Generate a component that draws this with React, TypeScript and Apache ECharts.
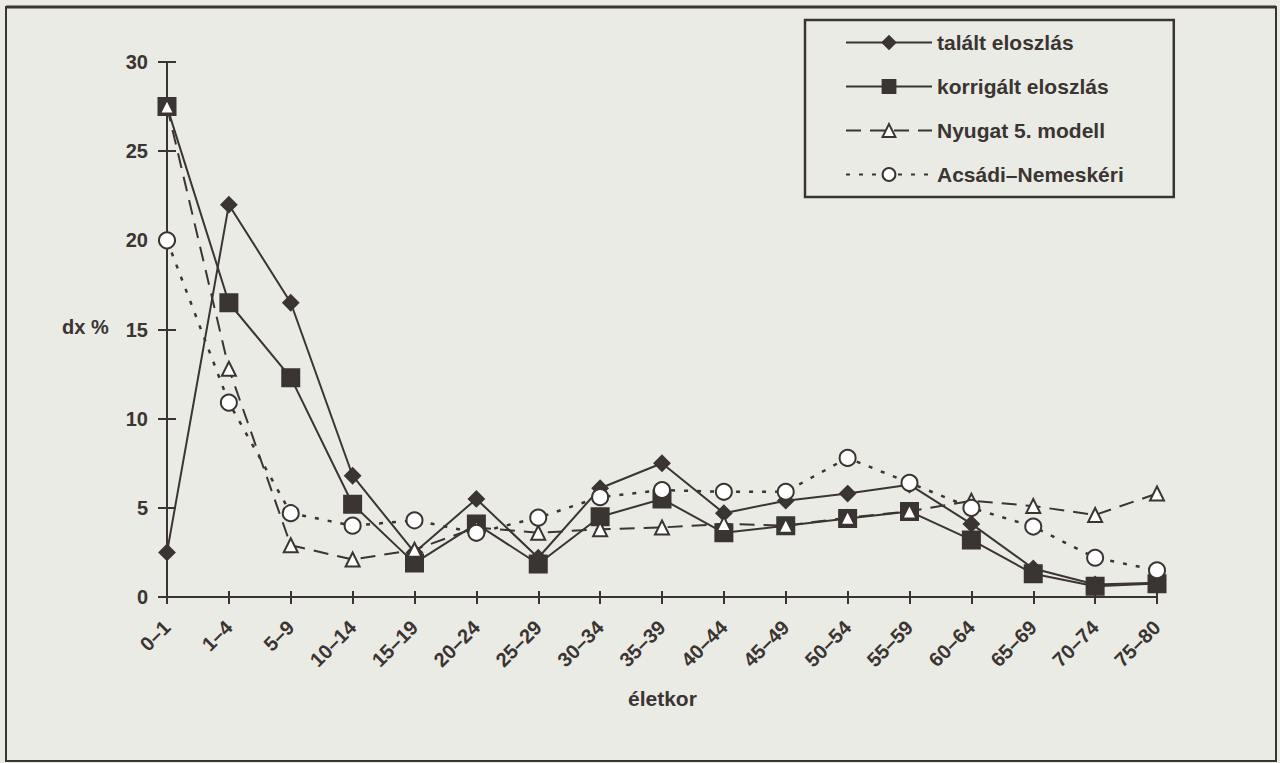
import React, { useEffect, useRef } from "react";
import * as echarts from "echarts";

const categories = ["0–1", "1–4", "5–9", "10–14", "15–19", "20–24", "25–29", "30–34", "35–39", "40–44", "45–49", "50–54", "55–59", "60–64", "65–69", "70–74", "75–80"];
const talalt = [2.5, 22.0, 16.5, 6.8, 2.5, 5.5, 2.2, 6.1, 7.5, 4.7, 5.4, 5.8, 6.3, 4.1, 1.6, 0.7, 0.8];
const korrigalt = [27.5, 16.5, 12.3, 5.2, 1.9, 4.1, 1.85, 4.5, 5.5, 3.6, 4.0, 4.4, 4.8, 3.2, 1.3, 0.6, 0.75];
const nyugat = [27.5, 12.8, 2.9, 2.1, 2.65, 3.9, 3.6, 3.8, 3.9, 4.1, 4.0, 4.45, 4.8, 5.4, 5.1, 4.6, 5.8];
const acsadi = [20.0, 10.9, 4.7, 4.0, 4.3, 3.6, 4.45, 5.6, 6.0, 5.9, 5.9, 7.8, 6.4, 5.0, 3.95, 2.2, 1.5];
const yTicks = [0, 5, 10, 15, 20, 25, 30];

const INK = "#3a3432";
const BG = "#ebebe5";
const FONT = "'Liberation Sans', Arial, sans-serif";

export default function App() {
  const ref = useRef<HTMLDivElement>(null);
  useEffect(() => {
    if (!ref.current) return;
    const chart = echarts.init(ref.current, null, { renderer: "svg" });
    const base = {
      type: "line",
      xAxisIndex: 0,
      yAxisIndex: 0,
      lineStyle: { color: INK, width: 2 },
      itemStyle: { color: INK, borderColor: INK, borderWidth: 2 },
      showAllSymbol: true,
    };
    chart.setOption({
      animation: false,
      backgroundColor: BG,
      textStyle: { fontFamily: FONT, color: INK },
      grid: { left: 167, right: 123, top: 62, bottom: 166 },
      xAxis: [
        {
          type: "category",
          data: categories,
          boundaryGap: false,
          axisLine: { lineStyle: { color: INK, width: 2 } },
          axisTick: { show: true, inside: false, length: 7, lineStyle: { color: INK, width: 2 } },
          axisLabel: { rotate: 45, margin: 27, color: INK, fontFamily: FONT, fontWeight: "bold", fontSize: 20, interval: 0 },
          splitLine: { show: false },
        },
        {
          type: "category",
          data: categories,
          position: "bottom",
          boundaryGap: false,
          axisLine: { show: false },
          axisTick: { show: true, inside: true, length: 6, lineStyle: { color: INK, width: 2 } },
          axisLabel: { show: false },
          splitLine: { show: false },
        },
      ],
      yAxis: [
        {
          type: "value",
          min: 0,
          max: 30,
          interval: 5,
          axisLine: { show: true, lineStyle: { color: INK, width: 2 } },
          axisTick: { show: true, inside: false, length: 9, lineStyle: { color: INK, width: 2 } },
          axisLabel: { margin: 19, color: INK, fontFamily: FONT, fontWeight: "bold", fontSize: 20, formatter: (v: number) => (yTicks.includes(v) ? String(v) : "") },
          splitLine: { show: false },
        },
        {
          type: "value",
          min: 0,
          max: 30,
          interval: 5,
          position: "left",
          axisLine: { show: false },
          axisTick: { show: true, inside: true, length: 9, lineStyle: { color: INK, width: 2 } },
          axisLabel: { show: false },
          splitLine: { show: false },
        },
      ],
      legend: {
        left: 805,
        top: 20,
        orient: "vertical",
        padding: [12, 50, 12, 40],
        itemGap: 23,
        itemWidth: 86,
        itemHeight: 16,
        borderColor: INK,
        borderWidth: 2.5,
        backgroundColor: BG,
        textStyle: { color: INK, fontFamily: FONT, fontWeight: "bold", fontSize: 21 },
        data: ["talált eloszlás", "korrigált eloszlás", "Nyugat 5. modell", "Acsádi–Nemeskéri"],
      },
      graphic: [
        { type: "rect", shape: { x: 6, y: 7, width: 1270, height: 754 }, style: { fill: "none", stroke: INK, lineWidth: 2 }, silent: true },
        { type: "line", shape: { x1: 6, y1: 7, x2: 1276, y2: 7 }, style: { stroke: INK, lineWidth: 3 }, silent: true },
        { type: "text", left: 62, top: 317, style: { text: "dx %", fill: INK, font: `bold 20px ${FONT}` } },
        { type: "text", left: 628, top: 688, style: { text: "életkor", fill: INK, font: `bold 21px ${FONT}` } },
      ],
      series: [
        { ...base, name: "talált eloszlás", data: talalt, symbol: "diamond", symbolSize: 15, z: 4 },
        { ...base, name: "korrigált eloszlás", data: korrigalt, symbol: "rect", symbolSize: 17, z: 3 },
        {
          ...base,
          name: "Nyugat 5. modell",
          data: nyugat,
          symbol: "triangle",
          symbolSize: 14,
          lineStyle: { color: INK, width: 2, type: [15, 9] },
          itemStyle: { color: "#ffffff", borderColor: INK, borderWidth: 2 },
          z: 5,
        },
        {
          ...base,
          name: "Acsádi–Nemeskéri",
          data: acsadi,
          symbol: "circle",
          symbolSize: 16,
          lineStyle: { color: INK, width: 2.5, type: [4, 9] },
          itemStyle: { color: "#ffffff", borderColor: INK, borderWidth: 2 },
          z: 6,
        },
      ],
    });
    return () => chart.dispose();
  }, []);
  return <div ref={ref} style={{ position: "fixed", left: 0, top: 0, width: 1280, height: 763 }} />;
}
